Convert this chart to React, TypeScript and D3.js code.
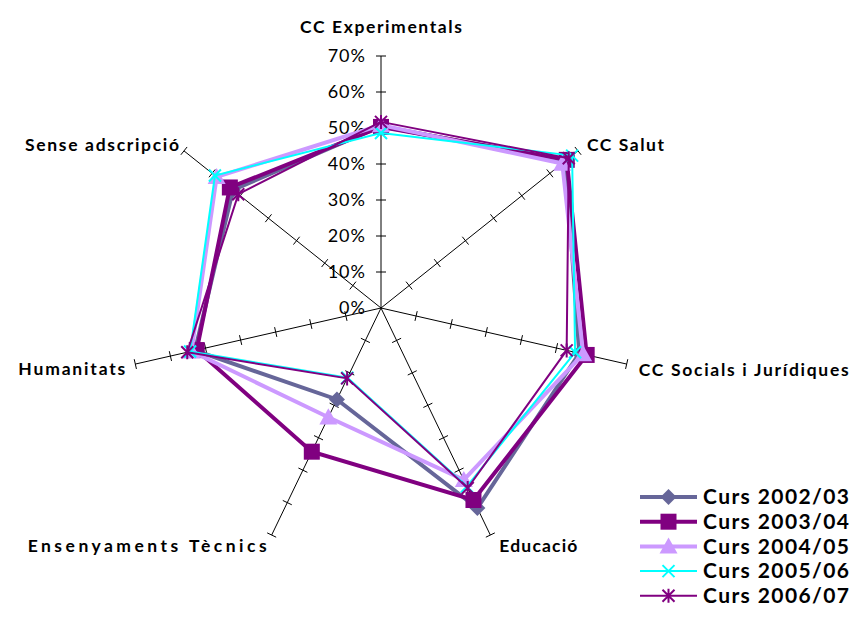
import React from "react";
import * as d3 from "d3";

const categories = [
  "CC Experimentals",
  "CC Salut",
  "CC Socials i Jurídiques",
  "Educació",
  "Ensenyaments Tècnics",
  "Humanitats",
  "Sense adscripció",
];

const seriesNames = ["Curs 2002/03", "Curs 2003/04", "Curs 2004/05", "Curs 2005/06", "Curs 2006/07"];

const v2002 = [50.5, 65.5, 56.5, 61.7, 28.2, 53.0, 52.6];
const v2003 = [50.3, 66.0, 58.6, 59.2, 44.3, 52.5, 53.7];
const v2004 = [50.8, 64.4, 57.6, 53.0, 33.7, 54.0, 58.4];
const v2005 = [48.6, 67.9, 55.3, 55.0, 21.5, 54.4, 59.0];
const v2006 = [51.7, 66.7, 52.9, 55.5, 21.7, 55.2, 50.7];

const tickValues = [0, 10, 20, 30, 40, 50, 60, 70];

const seriesValues = [v2002, v2003, v2004, v2005, v2006];
const colors = ["#666699", "#800080", "#CC99FF", "#00FFFF", "#800080"];
const widths = [4, 4, 4, 2, 2];
const markers = ["diamond", "square", "triangle", "x", "star"];

const CX = 381;
const CY = 308;
const R = 252;

const r = d3.scaleLinear().domain([0, 70]).range([0, R]);
const angle = d3.scaleLinear().domain([0, categories.length]).range([0, 2 * Math.PI]);

function pt(i: number, v: number): [number, number] {
  const a = angle(i);
  return [CX + r(v) * Math.sin(a), CY - r(v) * Math.cos(a)];
}

function Marker({ type, x, y, color }: { type: string; x: number; y: number; color: string }) {
  if (type === "diamond") {
    const s = 8;
    return <path d={`M${x},${y - s}L${x + s},${y}L${x},${y + s}L${x - s},${y}Z`} fill={color} />;
  }
  if (type === "square") {
    const s = 8;
    return <rect x={x - s} y={y - s} width={2 * s} height={2 * s} fill={color} />;
  }
  if (type === "triangle") {
    const s = 9;
    return <path d={`M${x},${y - s}L${x + s},${y + s * 0.8}L${x - s},${y + s * 0.8}Z`} fill={color} />;
  }
  if (type === "x") {
    const s = 6;
    return (
      <path d={`M${x - s},${y - s}L${x + s},${y + s}M${x + s},${y - s}L${x - s},${y + s}`} stroke={color} strokeWidth={2} />
    );
  }
  const s = 6;
  return (
    <path
      d={`M${x - s},${y - s}L${x + s},${y + s}M${x + s},${y - s}L${x - s},${y + s}M${x},${y - s - 1}L${x},${y + s + 1}`}
      stroke={color}
      strokeWidth={2}
    />
  );
}

const labelPos: { dx: number; dy: number; anchor: string; w: number }[] = [
  { dx: 0, dy: -29, anchor: "middle", w: 162 },
  { dx: 9, dy: -6, anchor: "start", w: 77 },
  { dx: 12, dy: 6, anchor: "start", w: 210 },
  { dx: 9, dy: 11, anchor: "start", w: 78 },
  { dx: -5, dy: 11, anchor: "end", w: 239 },
  { dx: -10, dy: 5, anchor: "end", w: 107 },
  { dx: -5, dy: -6, anchor: "end", w: 154 },
];

export default function App() {
  const line = d3.line<[number, number]>().curve(d3.curveLinearClosed);
  const font = "Lato, 'DejaVu Sans', sans-serif";
  return (
    <svg
      width={854}
      height={622}
      style={{ position: "absolute", left: 0, top: 0, display: "block", background: "#fff" }}
    >
      {/* axes */}
      {categories.map((c, i) => {
        const a = angle(i);
        const [ex, ey] = pt(i, 70);
        const px = Math.cos(a);
        const py = Math.sin(a);
        return (
          <g key={c}>
            <line x1={CX} y1={CY} x2={ex} y2={ey} stroke="#000" strokeWidth={1} />
            {tickValues.slice(1).map((t) => {
              const [tx, ty] = pt(i, t);
              return (
                <line key={t} x1={tx - 5 * px} y1={ty - 5 * py} x2={tx + 5 * px} y2={ty + 5 * py} stroke="#000" strokeWidth={1} />
              );
            })}
          </g>
        );
      })}
      {/* tick labels */}
      {tickValues.map((t) => {
        const [, ty] = pt(0, t);
        return (
          <text key={t} x={366} y={ty} dy="0.35em" textAnchor="end" fontFamily={font} fontSize={18} letterSpacing={1} fill="#000">
            {t}%
          </text>
        );
      })}
      {/* series */}
      {seriesValues.map((vals, si) => {
        const pts = vals.map((v, i) => pt(i, v));
        return (
          <g key={si}>
            <path d={line(pts) || ""} fill="none" stroke={colors[si]} strokeWidth={widths[si]} strokeLinejoin="miter" />
            {pts.map(([x, y], i) => (
              <Marker key={i} type={markers[si]} x={x} y={y} color={colors[si]} />
            ))}
          </g>
        );
      })}
      {/* category labels */}
      {categories.map((c, i) => {
        const [ex, ey] = pt(i, 70);
        const p = labelPos[i];
        return (
          <text
            key={c}
            x={ex + p.dx}
            y={ey + p.dy}
            dy="0.35em"
            textAnchor={p.anchor}
            fontFamily={font}
            fontWeight="bold"
            fontSize={17.5}
            textLength={p.w}
            lengthAdjust="spacing"
            fill="#000"
          >
            {c}
          </text>
        );
      })}
      {/* legend */}
      {seriesNames.map((n, si) => {
        const y = 497 + si * 24.7;
        return (
          <g key={n}>
            <line x1={640} y1={y} x2={697} y2={y} stroke={colors[si]} strokeWidth={widths[si]} />
            <Marker type={markers[si]} x={668.5} y={y} color={colors[si]} />
            <text x={703} y={y} dy="0.35em" fontFamily={font} fontWeight="bold" fontSize={21} letterSpacing={1.4} fill="#000">
              {n}
            </text>
          </g>
        );
      })}
    </svg>
  );
}
